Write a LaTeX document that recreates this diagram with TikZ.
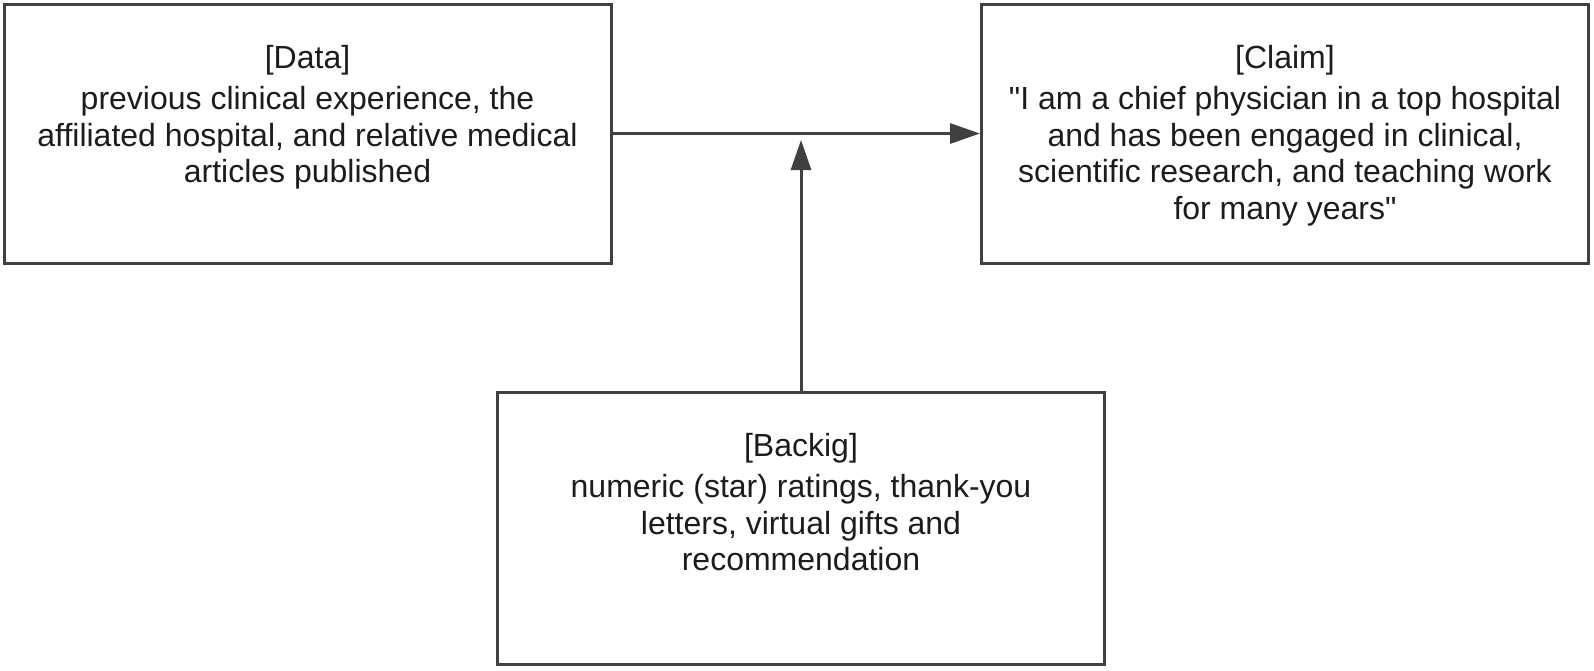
\documentclass[tikz,border=0pt]{standalone}
\usepackage{fontspec}
\setmainfont{Liberation Sans}
\usepackage{xcolor}
\usepackage{tikz}
\usetikzlibrary{arrows.meta, positioning, calc}
\definecolor{linegray}{HTML}{404040}
\definecolor{textgray}{HTML}{1C1C1C}
\tikzstyle{arrow} = [line width=1.5pt, draw=linegray, -{Triangle[length=15pt, width=10pt]}]
\tikzstyle{block} = [rectangle, minimum width=303.5pt, minimum height=129.5pt, draw=linegray, line width=1.5pt, inner sep=0pt]
\tikzstyle{blocktext} = [align=center, inner sep=0pt, text=textgray, font=\fontsize{16}{18.3}\selectfont]

\begin{document}
\begin{tikzpicture}[x=0.5pt, y=-0.5pt]
\useasboundingbox (0,0) rectangle (1594,670);

\node[block] (data) at (307.5,133.5) {};
\node[block] (claim) at (1285,133.5) {};
\node[block, minimum height=136pt] (backig) at (801,528) {};

\node[blocktext, below=21pt of data.north] (datatext) {[Data]\\[2.5pt]previous clinical experience, the\\affiliated hospital, and relative medical\\articles published};
\node[blocktext, below=21pt of claim.north] (claimtext) {[Claim]\\[2.5pt]\textquotedbl I am a chief physician in a top hospital\\and has been engaged in clinical,\\scientific research, and teaching work\\for many years\textquotedbl};
\node[blocktext, below=21pt of backig.north] (backigtext) {[Backig]\\[2.5pt]numeric (star) ratings, thank-you\\letters, virtual gifts and\\recommendation};

\coordinate (tip) at (801,140);
\draw[arrow] (data.east) -- (claim.west);
\draw[arrow] (backig.north) -- (tip);

\end{tikzpicture}
\end{document}
